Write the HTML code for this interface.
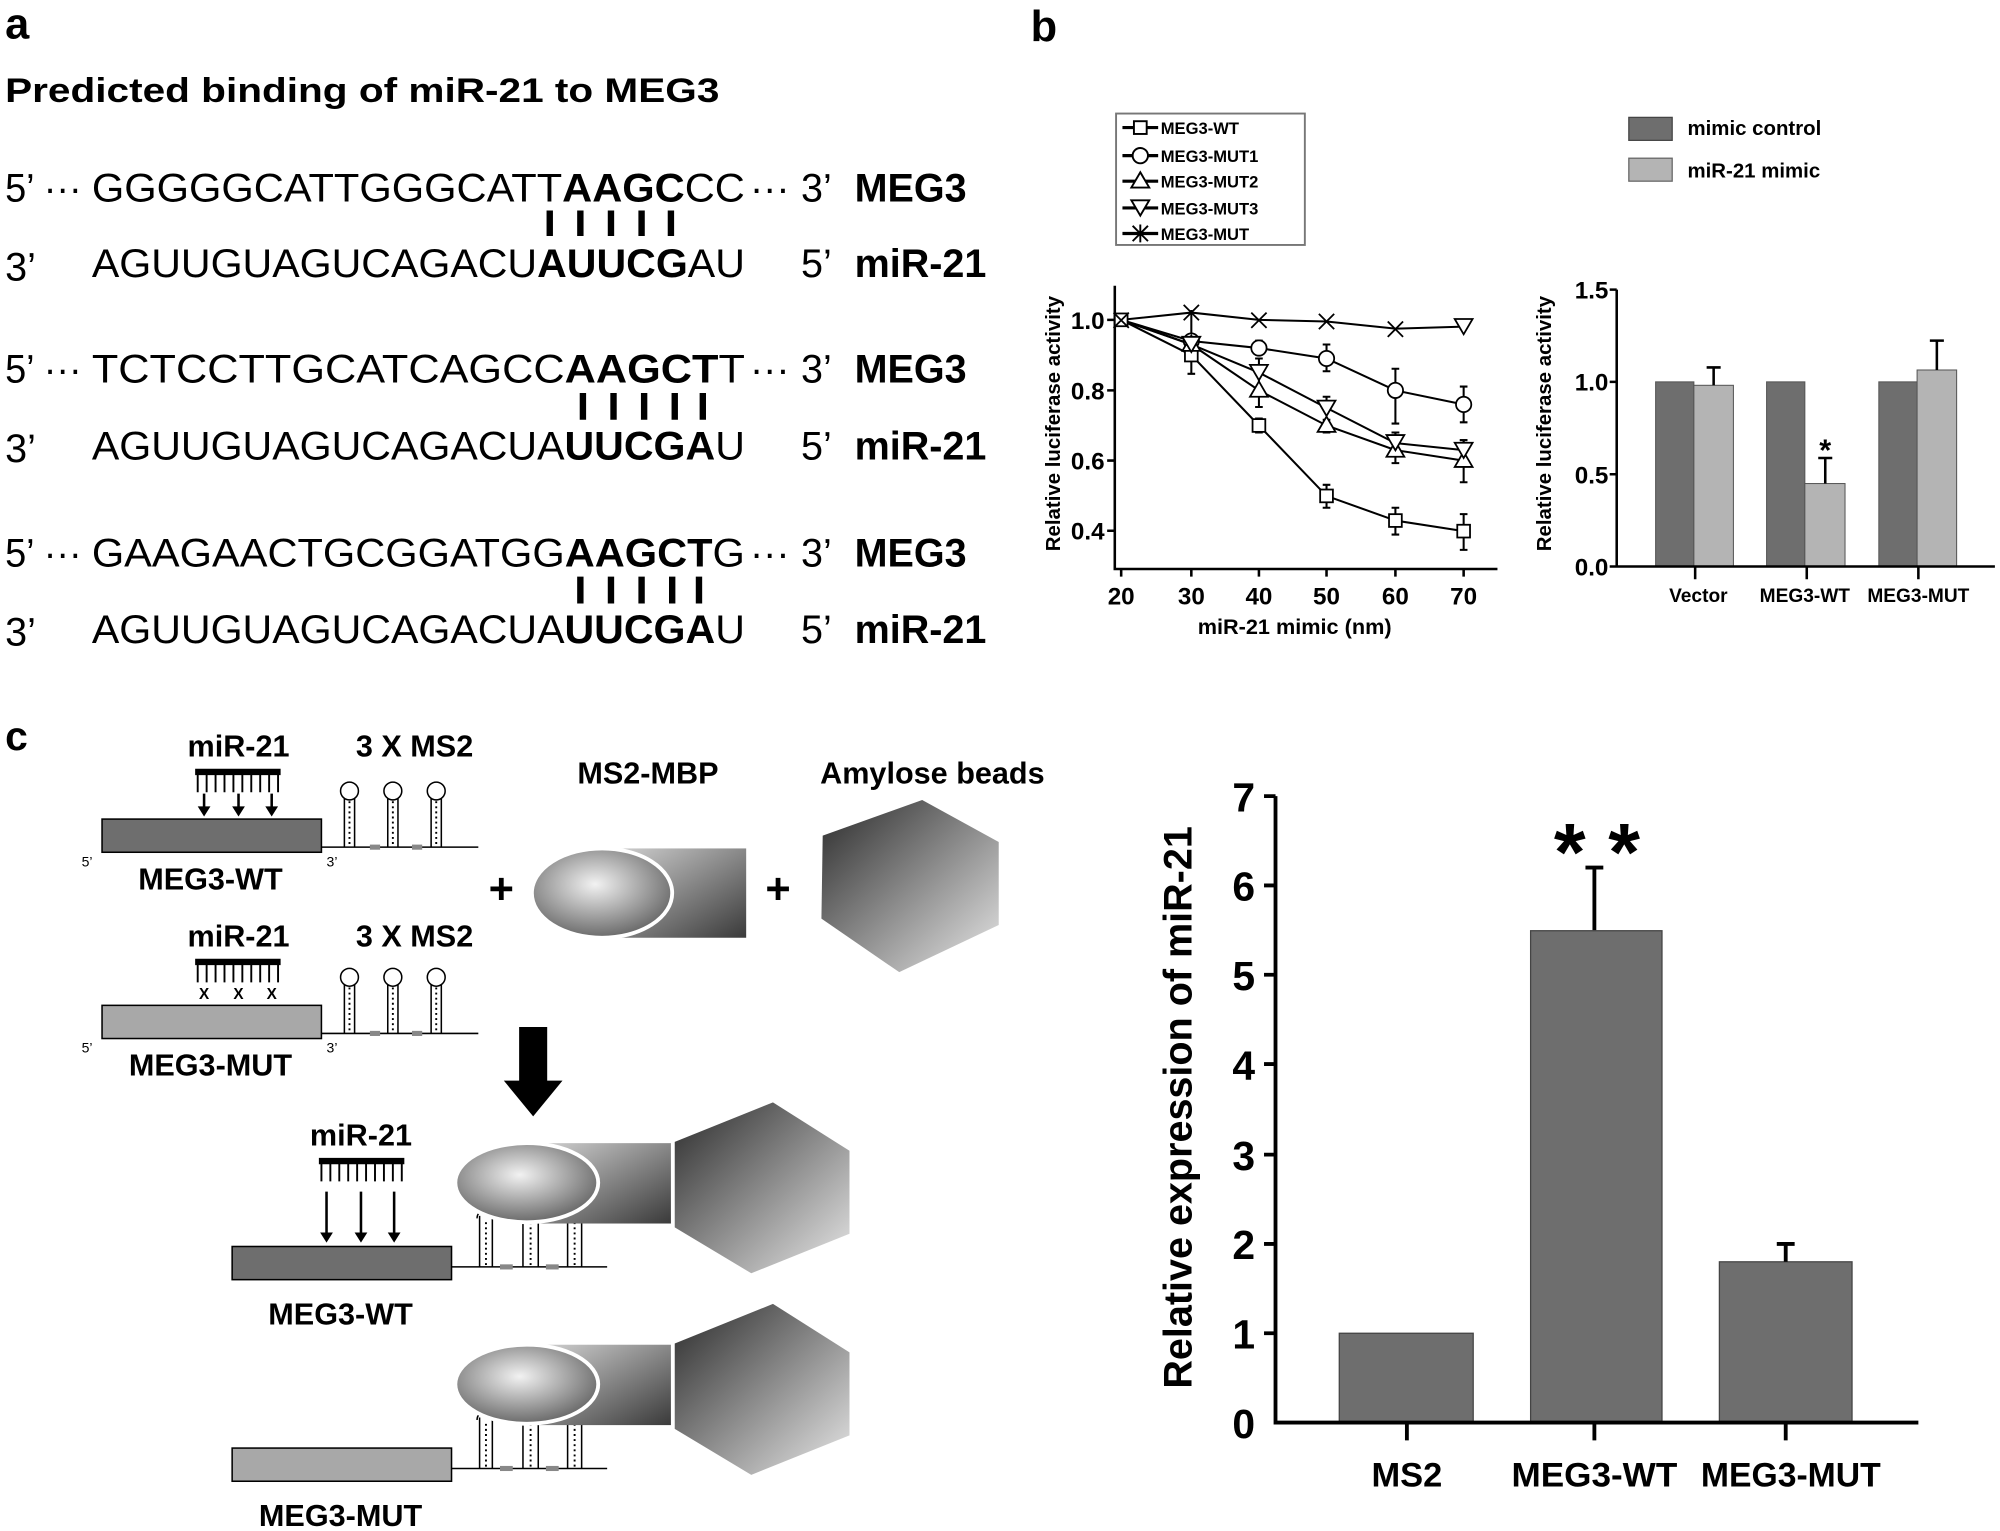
<!DOCTYPE html>
<html><head><meta charset="utf-8"><style>
html,body{margin:0;padding:0;background:#fff}
svg{display:block}
text{font-family:"Liberation Sans",Arial,sans-serif}
.b{font-weight:bold}
</style></head><body>
<svg width="2000" height="1531" viewBox="0 0 1568 1200" preserveAspectRatio="none" xmlns="http://www.w3.org/2000/svg">
<defs>
<radialGradient id="eg" cx="0.45" cy="0.4" r="0.6"><stop offset="0" stop-color="#f2f2f2"/><stop offset="1" stop-color="#6a6a6a"/></radialGradient>
<linearGradient id="cg" x1="0" y1="0" x2="1" y2="1"><stop offset="0" stop-color="#d8d8d8"/><stop offset="1" stop-color="#3a3a3a"/></linearGradient>
<linearGradient id="hg" x1="0" y1="0" x2="1" y2="1"><stop offset="0" stop-color="#2a2a2a"/><stop offset="1" stop-color="#e8e8e8"/></linearGradient>
</defs>
<rect width="1568" height="1200" fill="#fff"/>
<!-- Panel a -->
<text x="4" y="30" class="b" font-size="34">a</text>
<text x="4" y="80" class="b" font-size="27" textLength="560" lengthAdjust="spacingAndGlyphs">Predicted binding of miR-21 to MEG3</text>
<g font-size="31">
<text x="4" y="158" textLength="60" lengthAdjust="spacingAndGlyphs">5’ ···</text>
<text x="72" y="158" textLength="512" lengthAdjust="spacingAndGlyphs">GGGGGCATTGGGCATT<tspan class="b">AAGC</tspan>CC</text>
<text x="588" y="158">···</text><text x="628" y="158">3’</text><text x="670" y="158" class="b">MEG3</text>
<text x="4" y="220">3’</text>
<text x="72" y="217" textLength="512" lengthAdjust="spacingAndGlyphs">AGUUGUAGUCAGACU<tspan class="b">AUUCG</tspan>AU</text>
<text x="628" y="217">5’</text><text x="670" y="217" class="b">miR-21</text>
<text x="4" y="300" textLength="60" lengthAdjust="spacingAndGlyphs">5’ ···</text>
<text x="72" y="300" textLength="512" lengthAdjust="spacingAndGlyphs">TCTCCTTGCATCAGCC<tspan class="b">AAGCT</tspan>T</text>
<text x="588" y="300">···</text><text x="628" y="300">3’</text><text x="670" y="300" class="b">MEG3</text>
<text x="4" y="362">3’</text>
<text x="72" y="360" textLength="512" lengthAdjust="spacingAndGlyphs">AGUUGUAGUCAGACUA<tspan class="b">UUCGA</tspan>U</text>
<text x="628" y="360">5’</text><text x="670" y="360" class="b">miR-21</text>
<text x="4" y="444" textLength="60" lengthAdjust="spacingAndGlyphs">5’ ···</text>
<text x="72" y="444" textLength="512" lengthAdjust="spacingAndGlyphs">GAAGAACTGCGGATGG<tspan class="b">AAGCT</tspan>G</text>
<text x="588" y="444">···</text><text x="628" y="444">3’</text><text x="670" y="444" class="b">MEG3</text>
<text x="4" y="506">3’</text>
<text x="72" y="504" textLength="512" lengthAdjust="spacingAndGlyphs">AGUUGUAGUCAGACUA<tspan class="b">UUCGA</tspan>U</text>
<text x="628" y="504">5’</text><text x="670" y="504" class="b">miR-21</text>
</g>
<g stroke="#000" stroke-width="5">
<path d="M431 165v20M455 165v20M479 165v20M503 165v20M526 165v20"/>
<path d="M457 308v21M481 308v21M505 308v21M529 308v21M551 308v21"/>
<path d="M455 452v21M479 452v21M503 452v21M527 452v21M548 452v21"/>
</g>

<!-- Panel b -->
<text x="808" y="32" class="b" font-size="34">b</text>
<rect x="875" y="89" width="148" height="103" fill="#fff" stroke="#777" stroke-width="1.5"/>
<g font-size="13" class="b" stroke="#000">
<g stroke-width="2.5"><path d="M880 100h28M880 122h28M880 142h28M880 163h28M880 183h28"/></g>
<g fill="#fff" stroke-width="1.5">
<rect x="889" y="95" width="10" height="10"/>
<circle cx="894" cy="122" r="6"/>
<path d="M894 135l7 12h-14z"/>
<path d="M887 157h14l-7 12z"/>
<path d="M888 177l12 12M900 177l-12 12M894 176v14" fill="none"/>
</g>
<g stroke="none" fill="#000"><text x="910" y="105">MEG3-WT</text><text x="910" y="127">MEG3-MUT1</text><text x="910" y="147">MEG3-MUT2</text><text x="910" y="168">MEG3-MUT3</text><text x="910" y="188">MEG3-MUT</text></g>
</g>
<g stroke="#000" stroke-width="2" fill="none">
<path d="M874 224V446H1174"/>
<path d="M868 250.7h6M868 306h6M868 361h6M868 416h6"/>
<path d="M879 446v6M934 446v6M987 446v6M1040 446v6M1094 446v6M1147.5 446v6"/>
</g>
<g font-size="19" class="b" text-anchor="end"><text x="866" y="258">1.0</text><text x="866" y="313">0.8</text><text x="866" y="368">0.6</text><text x="866" y="423">0.4</text></g>
<g font-size="19" class="b" text-anchor="middle"><text x="879" y="474">20</text><text x="934" y="474">30</text><text x="987" y="474">40</text><text x="1040" y="474">50</text><text x="1094" y="474">60</text><text x="1147.5" y="474">70</text>
<text x="1015" y="497" font-size="17">miR-21 mimic (nm)</text></g>
<text transform="translate(831 332) rotate(-90)" text-anchor="middle" font-size="16" class="b">Relative luciferase activity</text>
<g fill="none" stroke="#000" stroke-width="1.6">
<path d="M934 273v20M931 273h6M931 293h6M987 328v11M984 328h6M984 339h6M1040 380v18M1037 380h6M1037 398h6M1094 398v21M1091 398h6M1091 419h6M1147.5 403v28M1144.5 403h6M1144.5 431h6"/>
<path d="M987 267v9M984 267h6M984 276h6M1040 270v21M1037 270h6M1037 291h6M1094 289v43M1091 289h6M1091 332h6M1147.5 303v28M1144.5 303h6M1144.5 331h6"/>
<path d="M987 289v30M984 289h6M984 319h6M1040 329v10M1037 329h6M1037 339h6M1094 339v24M1091 339h6M1091 363h6M1147.5 345v33M1144.5 345h6M1144.5 378h6"/>
<path d="M987 281v11M984 281h6M1040 311v9M1037 311h6M1094 339v8M1091 339h6M1147.5 345v8M1144.5 345h6"/>
<path d="M934 243v20M931 263h6"/>
<polyline points="879,250.7 934,278.3 987,333.5 1040,388.7 1094,408 1147.5,416.3"/>
<polyline points="879,250.7 934,267.3 987,272.8 1040,281 1094,306 1147.5,317"/>
<polyline points="879,250.7 934,270 987,306 1040,333.5 1094,352.8 1147.5,361"/>
<polyline points="879,250.7 934,270 987,292 1040,319.7 1094,347.3 1147.5,352.8"/>
<polyline points="879,250.7 934,245 987,250.7 1040,252 1094,257.6 1147.5,256"/>
</g>
<g fill="#fff" stroke="#000" stroke-width="1.4">
<rect x="874" y="245.7" width="10" height="10"/><rect x="929" y="273.3" width="10" height="10"/><rect x="982" y="328.5" width="10" height="10"/><rect x="1035" y="383.7" width="10" height="10"/><rect x="1089" y="403" width="10" height="10"/><rect x="1142.5" y="411.3" width="10" height="10"/>
<circle cx="934" cy="267.3" r="6"/><circle cx="987" cy="272.8" r="6"/><circle cx="1040" cy="281" r="6"/><circle cx="1094" cy="306" r="6"/><circle cx="1147.5" cy="317" r="6"/>
<path d="M934 263l7 12h-14zM987 299l7 12h-14zM1040 326.5l7 12h-14zM1094 346l7 12h-14zM1147.5 354l7 12h-14z"/>
<path d="M927 264h14l-7 12zM980 286h14l-7 12zM1033 314h14l-7 12zM1087 341h14l-7 12zM1140.5 347h14l-7 12zM1140.5 250h14l-7 12z"/>
<path d="M873 245l12 12M885 245l-12 12M928 239l12 12M940 239l-12 12M981 245l12 12M993 245l-12 12M1034 246l12 12M1046 246l-12 12M1088 252l12 12M1100 252l-12 12" fill="none"/>
</g>
<!-- bar chart b -->
<rect x="1277" y="92" width="34" height="18" fill="#6e6e6e" stroke="#444"/>
<rect x="1277" y="124" width="34" height="18" fill="#b4b4b4" stroke="#666"/>
<text x="1323" y="106" class="b" font-size="16">mimic control</text>
<text x="1323" y="139" class="b" font-size="16">miR-21 mimic</text>
<g stroke="#555" stroke-width="0.8">
<rect x="1298" y="299.3" width="30" height="144.7" fill="#6e6e6e"/>
<rect x="1328" y="302" width="31" height="142" fill="#b4b4b4"/>
<rect x="1385" y="299.3" width="30" height="144.7" fill="#6e6e6e"/>
<rect x="1415" y="379" width="31.5" height="65" fill="#b4b4b4"/>
<rect x="1473" y="299.3" width="30" height="144.7" fill="#6e6e6e"/>
<rect x="1503" y="290" width="31" height="154" fill="#b4b4b4"/>
</g>
<g stroke="#000" stroke-width="2" fill="none">
<path d="M1343.5 302v-14M1338 288h11M1431 379v-20M1425.5 359h11M1518.5 290v-23M1513 267h11"/>
<path d="M1267.5 227V444H1564M1262 227h5.5M1262 299.3h5.5M1262 371.7h5.5M1262 444h5.5M1329 444v10M1416.5 444v10M1504 444v10"/>
</g>
<g font-size="19" class="b" text-anchor="end"><text x="1261" y="234">1.5</text><text x="1261" y="306">1.0</text><text x="1261" y="379">0.5</text><text x="1261" y="451">0.0</text></g>
<text x="1431" y="361" text-anchor="middle" font-size="24" class="b">*</text>
<g font-size="15" class="b" text-anchor="middle"><text x="1331.5" y="472">Vector</text><text x="1415" y="472">MEG3-WT</text><text x="1504" y="472">MEG3-MUT</text></g>
<text transform="translate(1216 332) rotate(-90)" text-anchor="middle" font-size="16" class="b">Relative luciferase activity</text>

<!-- Panel c diagram -->
<text x="4" y="588" class="b" font-size="32">c</text>
<g class="b" font-size="24" text-anchor="middle">
<text x="187" y="593">miR-21</text><text x="325" y="593">3 X MS2</text>
<text x="508" y="614">MS2-MBP</text><text x="731" y="614">Amylose beads</text>
<text x="165" y="697">MEG3-WT</text>
<text x="187" y="742">miR-21</text><text x="325" y="742">3 X MS2</text>
<text x="165" y="843">MEG3-MUT</text>
<text x="283" y="898">miR-21</text>
<text x="267" y="1038">MEG3-WT</text>
<text x="267" y="1196">MEG3-MUT</text>
<text x="393" y="708" font-size="34">+</text><text x="610" y="708" font-size="34">+</text>
</g>
<g font-size="11"><text x="64" y="679">5’</text><text x="256" y="679">3’</text><text x="64" y="825">5’</text><text x="256" y="825">3’</text></g>
<rect x="80" y="642" width="172" height="26" fill="#6e6e6e" stroke="#000" stroke-width="1.2"/>
<rect x="80" y="788" width="172" height="26" fill="#a8a8a8" stroke="#000" stroke-width="1.2"/>
<rect x="182" y="977" width="172" height="26" fill="#6e6e6e" stroke="#000" stroke-width="1.2"/>
<rect x="182" y="1135" width="172" height="26" fill="#a8a8a8" stroke="#000" stroke-width="1.2"/>
<g stroke="#000">
<path d="M153 605h67M153 754h67M250 910h67" stroke-width="5"/>
<path d="M155 607v14M162 607v14M169 607v14M176 607v14M183 607v14M190 607v14M197 607v14M204 607v14M211 607v14M218 607v14M155 756v14M162 756v14M169 756v14M176 756v14M183 756v14M190 756v14M197 756v14M204 756v14M211 756v14M218 756v14M252 912v14M259 912v14M266 912v14M273 912v14M280 912v14M287 912v14M294 912v14M301 912v14M308 912v14M315 912v14" stroke-width="1.5"/>
<path d="M160 622v12M187 622v12M213 622v12M256 934v34M283 934v34M309 934v34" stroke-width="2"/>
</g>
<path d="M155 632h10l-5 8zM182 632h10l-5 8zM208 632h10l-5 8zM251 966h10l-5 8zM278 966h10l-5 8zM304 966h10l-5 8z"/>
<g font-size="12" class="b" text-anchor="middle"><text x="160" y="783">X</text><text x="187" y="783">X</text><text x="213" y="783">X</text></g>
<g fill="none" stroke="#000" stroke-width="1.2">
<path d="M252 664h123M252 810h123M354 993h122M354 1151h122"/>
<path d="M270 664v-38M278 664v-38M304 664v-38M312 664v-38M338 664v-38M346 664v-38"/>
<circle cx="274" cy="620" r="7"/><circle cx="308" cy="620" r="7"/><circle cx="342" cy="620" r="7"/>
<path d="M270 810v-38M278 810v-38M304 810v-38M312 810v-38M338 810v-38M346 810v-38"/>
<circle cx="274" cy="766" r="7"/><circle cx="308" cy="766" r="7"/><circle cx="342" cy="766" r="7"/>
<path d="M376 993v-40M386 993v-40M410 993v-36M422 993v-36M445 993v-36M456 993v-36M376 1151v-40M386 1151v-40M410 1151v-36M422 1151v-36M445 1151v-36M456 1151v-36"/>
<path d="M374 955a7 7 0 0 1 14 0M374 1113a7 7 0 0 1 14 0"/>
</g>
<g stroke="#000" stroke-width="1.5" stroke-dasharray="1.5 2.5"><path d="M274 628v34M308 628v34M342 628v34M274 774v34M308 774v34M342 774v34M381 958v34M416 958v34M450.5 958v34M381 1116v34M416 1116v34M450.5 1116v34"/></g>
<g fill="#888"><rect x="290" y="662" width="8" height="4"/><rect x="323" y="662" width="8" height="4"/><rect x="290" y="808" width="8" height="4"/><rect x="323" y="808" width="8" height="4"/><rect x="392" y="991" width="10" height="4"/><rect x="428" y="991" width="10" height="4"/><rect x="392" y="1149" width="10" height="4"/><rect x="428" y="1149" width="10" height="4"/></g>
<rect x="470" y="665" width="115" height="70" fill="url(#cg)"/>
<ellipse cx="472" cy="700" rx="55" ry="35" fill="url(#eg)" stroke="#fff" stroke-width="3"/>
<polygon points="723,627 783,660 783,725 705,762 644,720 645,655" fill="url(#hg)"/>
<path d="M407 805h22v42h12l-23 28-23-28h12z" fill="#000"/>
<rect x="413" y="896" width="113" height="63" fill="url(#cg)"/>
<ellipse cx="413" cy="927" rx="56" ry="31" fill="url(#eg)" stroke="#fff" stroke-width="3"/>
<polygon points="606,864 666,902 666,967 589,998 529,962 529,895" fill="url(#hg)"/>
<rect x="413" y="1054" width="113" height="63" fill="url(#cg)"/>
<ellipse cx="413" cy="1085" rx="56" ry="31" fill="url(#eg)" stroke="#fff" stroke-width="3"/>
<polygon points="606,1022 666,1060 666,1125 589,1156 529,1120 529,1053" fill="url(#hg)"/>

<!-- Panel c bar chart -->
<g stroke="#444" stroke-width="1" fill="#6e6e6e">
<rect x="1050" y="1045" width="105" height="70"/>
<rect x="1200" y="729.5" width="103" height="385.5"/>
<rect x="1348" y="989" width="104" height="126"/>
</g>
<g stroke="#000" stroke-width="3" fill="none">
<path d="M1250 729v-49M1243 680h14M1400 989v-14M1393 975h14"/>
<path d="M1000 624V1115H1504M991 624h9M991 694h9M991 764h9M991 834h9M991 905h9M991 975h9M991 1045h9M1103 1115v14M1250 1115v14M1400 1115v14"/>
</g>
<g font-size="32" class="b" text-anchor="end"><text x="984" y="636">7</text><text x="984" y="706">6</text><text x="984" y="776">5</text><text x="984" y="846">4</text><text x="984" y="917">3</text><text x="984" y="987">2</text><text x="984" y="1057">1</text><text x="984" y="1127">0</text></g>
<text transform="translate(934 868) rotate(-90)" text-anchor="middle" font-size="31" class="b">Relative expression of miR-21</text>
<text x="1252" y="690" text-anchor="middle" font-size="64" class="b">* *</text>
<g font-size="27" class="b" text-anchor="middle"><text x="1103" y="1165">MS2</text><text x="1250" y="1165" textLength="130" lengthAdjust="spacingAndGlyphs">MEG3-WT</text><text x="1404" y="1165" textLength="141" lengthAdjust="spacingAndGlyphs">MEG3-MUT</text></g>
</svg>
</body></html>
